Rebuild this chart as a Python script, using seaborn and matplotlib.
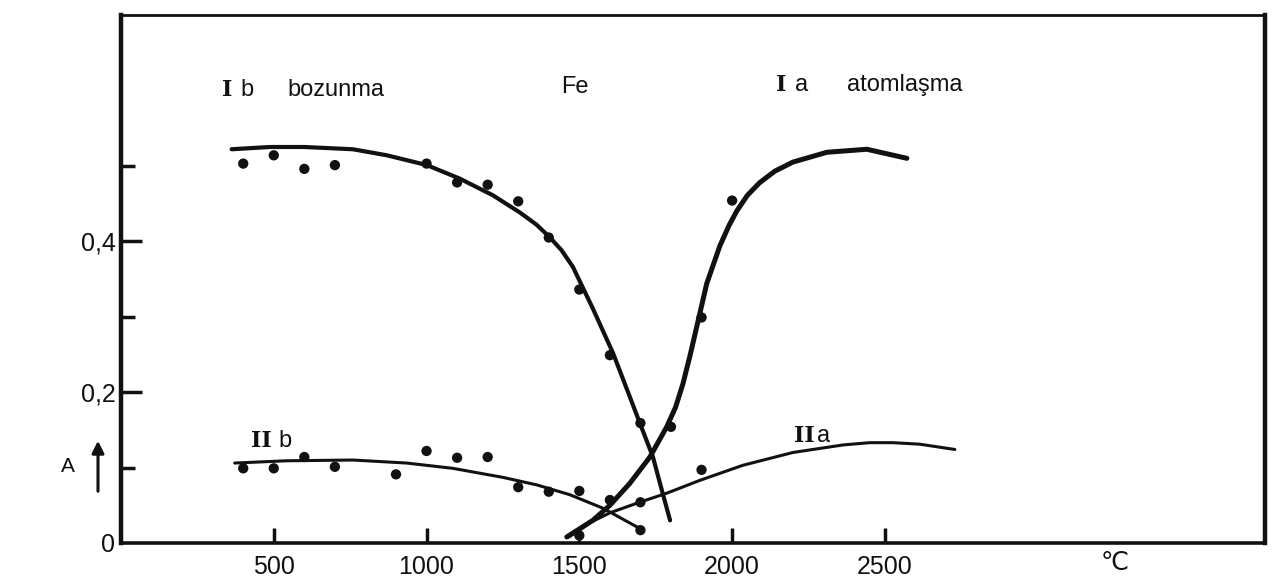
import matplotlib
matplotlib.use("Agg")
import matplotlib.pyplot as plt
import seaborn as sns

# Ib - bozunma (measured points + drawn curve)
ib_x = [400, 500, 600, 700, 1000, 1100, 1200, 1300, 1400, 1500, 1600, 1700]
ib_y = [0.503, 0.514, 0.496, 0.501, 0.503, 0.478, 0.475, 0.453, 0.405, 0.336, 0.249, 0.159]
ib_curve_x = [362, 487, 600, 759, 870, 1001, 1109, 1217, 1306, 1360, 1404, 1442, 1479, 1544, 1610, 1666, 1698, 1741, 1764, 1797]
ib_curve_y = [0.522, 0.525, 0.525, 0.522, 0.514, 0.501, 0.483, 0.461, 0.438, 0.422, 0.405, 0.388, 0.366, 0.311, 0.252, 0.193, 0.159, 0.114, 0.079, 0.030]

# Ia - atomlasma
ia_x = [1500, 1600, 1800, 1900, 2000]
ia_y = [0.010, 0.057, 0.154, 0.299, 0.454]
ia_curve_x = [1459, 1544, 1600, 1665, 1731, 1786, 1815, 1839, 1862, 1885, 1917, 1960, 1990, 2015, 2050, 2091, 2140, 2199, 2310, 2441, 2572]
ia_curve_y = [0.008, 0.030, 0.050, 0.079, 0.114, 0.154, 0.180, 0.211, 0.248, 0.288, 0.344, 0.394, 0.421, 0.440, 0.461, 0.478, 0.493, 0.505, 0.518, 0.522, 0.510]

# IIb
iib_x = [400, 500, 600, 700, 900, 1000, 1100, 1200, 1300, 1400, 1500, 1700]
iib_y = [0.099, 0.099, 0.114, 0.101, 0.091, 0.122, 0.113, 0.114, 0.074, 0.068, 0.069, 0.017]
iib_curve_x = [372, 542, 759, 935, 1086, 1250, 1361, 1469, 1578, 1699]
iib_curve_y = [0.106, 0.109, 0.110, 0.106, 0.099, 0.087, 0.077, 0.064, 0.046, 0.019]

# IIa
iia_x = [1700, 1900]
iia_y = [0.054, 0.097]
iia_curve_x = [1465, 1540, 1600, 1697, 1786, 1894, 2035, 2199, 2363, 2450, 2527, 2614, 2729]
iia_curve_y = [0.008, 0.028, 0.040, 0.054, 0.066, 0.083, 0.103, 0.120, 0.130, 0.133, 0.133, 0.131, 0.124]

x_ticks = [500, 1000, 1500, 2000, 2500]
y_ticks = [0, 0.2, 0.4]
y_tick_labels = ["0", "0,2", "0,4"]
y_minor = [0.1, 0.3, 0.5]

sns.set_style("white")
plt.rcParams["font.family"] = ["Liberation Sans", "DejaVu Sans"]
narrow = ["Liberation Sans Narrow", "Liberation Sans", "DejaVu Sans"]

fig = plt.figure(figsize=(12.81, 5.81), dpi=100)
ax = fig.add_axes([121 / 1281, 1 - 543 / 581, (1265 - 121) / 1281, (543 - 15) / 581])

k = "#111111"
line_kw = dict(ax=ax, color=k, estimator=None, sort=False, solid_joinstyle="round", solid_capstyle="round")
sns.lineplot(x=ib_curve_x, y=ib_curve_y, lw=3.0, **line_kw)
sns.lineplot(x=ia_curve_x, y=ia_curve_y, lw=3.6, **line_kw)
sns.lineplot(x=iib_curve_x, y=iib_curve_y, lw=2.2, **line_kw)
sns.lineplot(x=iia_curve_x, y=iia_curve_y, lw=2.2, **line_kw)
for xs, ys in [(ib_x, ib_y), (ia_x, ia_y), (iib_x, iib_y), (iia_x, iia_y)]:
    sns.scatterplot(x=xs, y=ys, ax=ax, color=k, s=55, edgecolor="none", zorder=3)

ax.set_xlim(0, 3744)
ax.set_ylim(0, 0.70)

ax.set_xticks(x_ticks)
ax.set_xticklabels([str(v) for v in x_ticks], family=narrow, fontsize=18)
ax.set_yticks(y_ticks)
ax.set_yticklabels(y_tick_labels, family=narrow, fontsize=18)
ax.set_yticks(y_minor, minor=True)
ax.tick_params(axis="x", bottom=True, direction="in", length=11, width=2.5, pad=9, colors=k)
ax.tick_params(axis="y", left=True, direction="in", length=15, width=2.5, pad=4, colors=k)
ax.tick_params(axis="y", which="minor", left=True, direction="in", length=10, width=2.5, colors=k)
ax.yaxis.get_major_ticks()[0].tick1line.set_visible(False)

for side, w in [("left", 3.2), ("bottom", 2.6), ("right", 3.2), ("top", 2.0)]:
    ax.spines[side].set_visible(True)
    ax.spines[side].set_color(k)
    ax.spines[side].set_linewidth(w)

# curve labels
roman = dict(family="DejaVu Serif", fontweight="bold", fontsize=16, color=k, va="baseline", ha="center")
sans = dict(fontsize=17, color=k, va="baseline")
ax.text(349, 0.592, "I", **roman)
ax.text(412, 0.592, "b", ha="center", **sans)
ax.text(546, 0.592, "bozunma", ha="left", **sans)
ax.text(1485, 0.596, "Fe", ha="center", **sans)
ax.text(2160, 0.599, "I", **roman)
ax.text(2226, 0.599, "a", ha="center", **sans)
ax.text(2376, 0.599, "atomlaşma", ha="left", **sans)
ax.text(460, 0.127, "II", **roman)
ax.text(536, 0.127, "b", ha="center", **sans)
ax.text(2235, 0.134, "II", **roman)
ax.text(2300, 0.134, "a", ha="center", **sans)

ax.text(3253, -0.027, "℃", ha="center", va="center", fontsize=18, color=k, clip_on=False)

fig.text(68 / 1281, 1 - 467 / 581, "A", ha="center", va="center", fontsize=15, color=k)
ax.annotate("", xy=(98 / 1281, 1 - 438 / 581), xytext=(98 / 1281, 1 - 494 / 581),
            xycoords="figure fraction", textcoords="figure fraction",
            arrowprops=dict(arrowstyle="-|>", color=k, lw=2.2, mutation_scale=18))

fig.savefig("out.png", dpi=100, facecolor="white")
plt.close(fig)
